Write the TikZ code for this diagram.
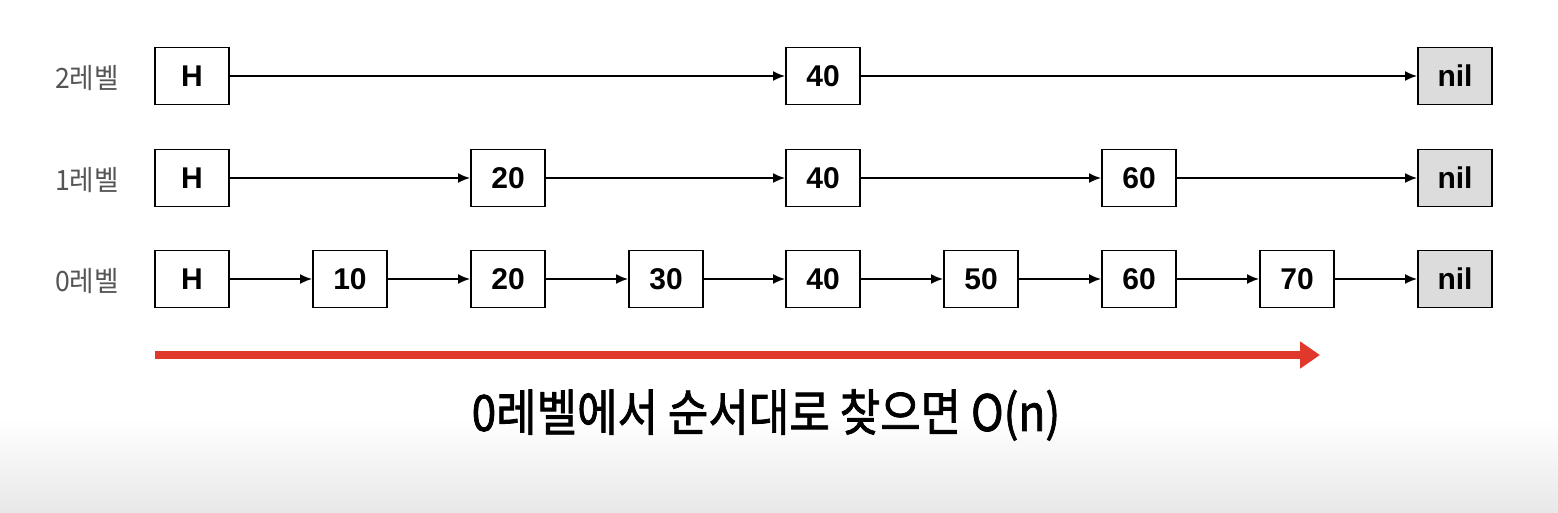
\documentclass[tikz,border=0pt]{standalone}
\usepackage{fontspec}
\setmainfont{Liberation Sans}
\newfontfamily\kofont{Noto Sans CJK KR}
\newfontfamily\kocaption[FakeBold=1.6]{Noto Sans CJK KR}
\usetikzlibrary{arrows.meta}
\definecolor{nilgray}{HTML}{DCDCDC}
\definecolor{labelgray}{HTML}{555555}
\definecolor{scanred}{HTML}{E0392B}
\definecolor{floorgray}{HTML}{E8E8E8}
\begin{document}
\begin{tikzpicture}[x=1pt,y=-1pt]
\tikzstyle{node_style} = [rectangle, draw=black, line width=1.8pt, fill=white, minimum width=74pt, minimum height=57pt, inner sep=0pt, font=\fontsize{30}{32}\selectfont\bfseries]
\tikzstyle{nil_style} = [node_style, fill=nilgray]
\tikzstyle{edge_style} = [-{Latex[length=12pt,width=10pt]}, black, line width=2pt]
\tikzstyle{level_style} = [text=labelgray, font=\kofont\fontsize{28}{30}\selectfont, xscale=0.95]
    % page and floor shading
    \fill[white] (0,0) rectangle (1558,512);
    \shade[top color=white, bottom color=floorgray] (0,418) rectangle (1558,512);
    \useasboundingbox (0,0) rectangle (1558,512);

    % 2 level
    \node[node_style] (h2) at (192,76) {H};
    \node[node_style] (a40) at (823,76) {40};
    \node[nil_style] (nil2) at (1455,76) {nil};

    \draw[edge_style] (h2) -- (a40);
    \draw[edge_style] (a40) -- (nil2);

    % 1 level
    \node[node_style] (h1) at (192,178) {H};
    \node[node_style] (b20) at (508,178) {20};
    \node[node_style] (b40) at (823,178) {40};
    \node[node_style] (b60) at (1139,178) {60};
    \node[nil_style] (nil1) at (1455,178) {nil};

    \draw[edge_style] (h1) -- (b20);
    \draw[edge_style] (b20) -- (b40);
    \draw[edge_style] (b40) -- (b60);
    \draw[edge_style] (b60) -- (nil1);

    % 0 level
    \node[node_style] (h0) at (192,279) {H};
    \node[node_style] (c10) at (350,279) {10};
    \node[node_style] (c20) at (508,279) {20};
    \node[node_style] (c30) at (666,279) {30};
    \node[node_style] (c40) at (823,279) {40};
    \node[node_style] (c50) at (981,279) {50};
    \node[node_style] (c60) at (1139,279) {60};
    \node[node_style] (c70) at (1297,279) {70};
    \node[nil_style] (nil0) at (1455,279) {nil};

    \draw[edge_style] (h0) -- (c10);
    \draw[edge_style] (c10) -- (c20);
    \draw[edge_style] (c20) -- (c30);
    \draw[edge_style] (c30) -- (c40);
    \draw[edge_style] (c40) -- (c50);
    \draw[edge_style] (c50) -- (c60);
    \draw[edge_style] (c60) -- (c70);
    \draw[edge_style] (c70) -- (nil0);

    \node[level_style] (l2) at (87,78) {2레벨};
    \node[level_style] (l1) at (87,180) {1레벨};
    \node[level_style] (l0) at (87,281) {0레벨};

    % linear scan
    \coordinate (scan_start) at (155,355);
    \coordinate (scan_end) at (1320,355);
    \draw[scanred, line width=8pt, -{Triangle[length=20pt,width=26pt]}] (scan_start) -- (scan_end);

    \node[font=\kocaption\fontsize{50}{54}\selectfont, xscale=0.88] (caption) at (766,415) {0레벨에서 순서대로 찾으면 O(n)};
\end{tikzpicture}
\end{document}
